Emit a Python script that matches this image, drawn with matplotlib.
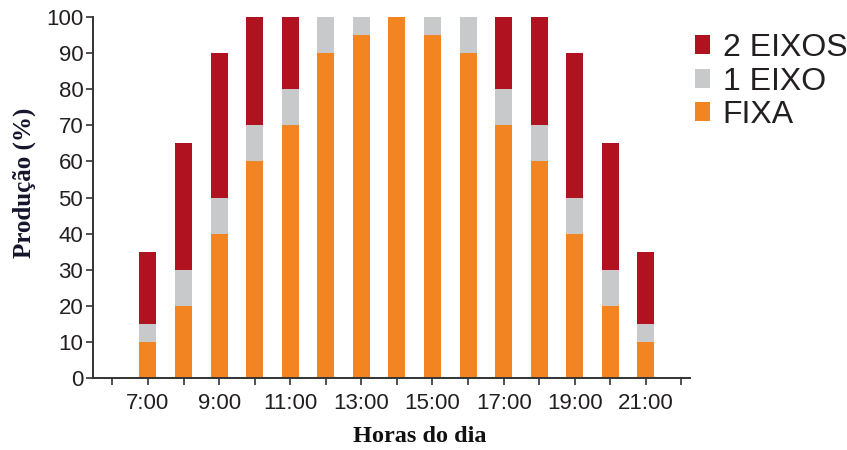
import matplotlib
matplotlib.use("Agg")
import matplotlib.pyplot as plt
import numpy as np

# data
hours = [7, 8, 9, 10, 11, 12, 13, 14, 15, 16, 17, 18, 19, 20, 21]
fixa = [10, 20, 40, 60, 70, 90, 95, 100, 95, 90, 70, 60, 40, 20, 10]
um_eixo = [15, 30, 50, 70, 80, 100, 100, 100, 100, 100, 80, 70, 50, 30, 15]   # cumulative top
dois_eixos = [35, 65, 90, 100, 100, 100, 100, 100, 100, 100, 100, 100, 90, 65, 35]  # cumulative top
tick_hours = list(range(6, 23))
tick_labels = ['%d:00' % h if h % 2 == 1 and 7 <= h <= 21 else '' for h in tick_hours]

c_red = '#B0121F'
c_grey = '#C8C9CB'
c_orange = '#F28522'
txt = '#231F20'

fixa = np.array(fixa)
um = np.array(um_eixo) - fixa
dois = np.array(dois_eixos) - np.array(um_eixo)

fig = plt.figure(figsize=(8.47, 4.5), dpi=100)
ax = fig.add_axes([93/847, 72/450, (690-93)/847, (378-17)/450])

w = 0.48
ax.bar(hours, fixa, width=w, color=c_orange, label='FIXA')
ax.bar(hours, um, width=w, bottom=fixa, color=c_grey, label='1 EIXO')
ax.bar(hours, dois, width=w, bottom=fixa + um, color=c_red, label='2 EIXOS')

ax.set_xlim(5.455, 22.24)
ax.set_ylim(0, 100)
ax.set_yticks(range(0, 101, 10))
ax.set_xticks(tick_hours)
ax.set_xticklabels(tick_labels)

for s in ['top', 'right']:
    ax.spines[s].set_visible(False)
for s in ['left', 'bottom']:
    ax.spines[s].set_color('#333333')
    ax.spines[s].set_linewidth(1.4)
ax.tick_params(axis='both', direction='out', length=5, width=1.2, color='#333333',
               labelsize=16, labelcolor=txt)
for lab in ax.get_xticklabels() + ax.get_yticklabels():
    lab.set_family('Liberation Sans')
ax.tick_params(axis='y', pad=2)
ax.tick_params(axis='x', pad=6)

ax.set_xlabel('Horas do dia', family='Liberation Serif', fontweight='bold',
              fontsize=17.5, color='#111111')
ax.set_ylabel('Produção (%)', family='Liberation Serif', fontweight='bold',
              fontsize=18, color='#14142B')
ax.xaxis.set_label_coords(0.548, -59/361, transform=ax.transAxes)
ax.xaxis.label.set_va('center')
ax.yaxis.set_label_coords(-69/597, 0.54, transform=ax.transAxes)
ax.yaxis.label.set_va('center')

handles, labels = ax.get_legend_handles_labels()
leg = fig.legend(handles[::-1], labels[::-1], loc='upper left',
                 bbox_to_anchor=(695/847, 1 - 33/450), frameon=False,
                 prop={'family': 'Liberation Sans', 'size': 23},
                 handlelength=0.47, handleheight=0.52, handletextpad=0.4,
                 labelspacing=0.11, borderaxespad=0, borderpad=0)
for t in leg.get_texts():
    t.set_color(txt)

fig.savefig('out.png', dpi=100)
